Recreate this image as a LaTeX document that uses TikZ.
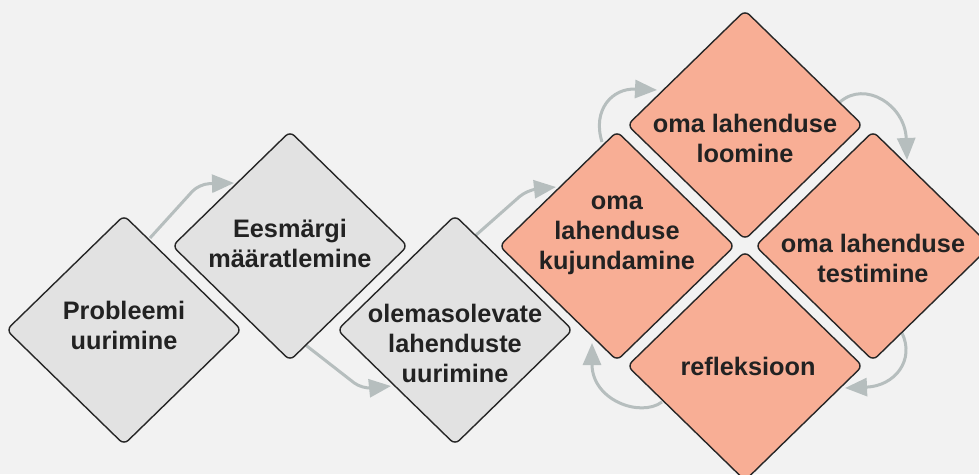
\documentclass[tikz,border=0pt]{standalone}
\usepackage{fontspec}
\setmainfont{Liberation Sans}
\usetikzlibrary{shapes.geometric,arrows.meta,calc}
\definecolor{bgc}{HTML}{F2F2F2}
\definecolor{grayfill}{HTML}{E2E2E2}
\definecolor{orangefill}{HTML}{F8AE95}
\definecolor{edgec}{HTML}{262626}
\definecolor{arrowc}{HTML}{B6BEBE}
\definecolor{textc}{HTML}{222222}
\pgfdeclarelayer{bg}
\pgfsetlayers{bg,main}
\begin{document}
\begin{tikzpicture}[x=1pt,y=-1pt,
  dia/.style={diamond, draw=edgec, line width=1.4pt, rounded corners=6pt, minimum width=235pt, minimum height=229pt, inner sep=0pt, outer sep=0pt},
  graydia/.style={dia, fill=grayfill},
  orangedia/.style={dia, fill=orangefill},
  lbl/.style={align=center, text=textc, font=\fontsize{25.3}{30}\selectfont\bfseries, inner sep=0pt},
  flow/.style={draw=arrowc, line width=3pt, -{Triangle[length=22pt,width=18pt]}, rounded corners=10pt}
]
\useasboundingbox (0,0) rectangle (979,474);

% diamonds
\node[graydia] (d1) at (124,330) {};
\node[graydia] (d2) at (290,246) {};
\node[graydia] (d3) at (455,330) {};
\node[orangedia] (d4) at (617,246) {};
\node[orangedia] (d5) at (745,125) {};
\node[orangedia] (d6) at (873,246) {};
\node[orangedia] (d7) at (745,366) {};

% labels
\node[lbl] (t1) at (124,325) {Probleemi\\uurimine};
\node[lbl] (t2) at (290,243) {Eesmärgi\\määratlemine};
\node[lbl] (t3) at (455,343) {olemasolevate\\lahenduste\\uurimine};
\node[lbl] (t4) at (617,235) {oma\\lahenduse\\kujundamine};
\node[lbl] (t5) at (745,138) {oma lahenduse\\loomine};
\node[lbl] (t6) at (873,258) {oma lahenduse\\testimine};
\node[lbl] (t7) at (748,366) {refleksioon};

% connector points
\coordinate (a1s) at (150,238);
\coordinate (a1b) at (199,184);
\coordinate (a1e) at (234,183);
\coordinate (a2s) at (303,343);
\coordinate (a2b) at (362,389);
\coordinate (a2e) at (391,386);
\coordinate (a3s) at (475,236);
\coordinate (a3b) at (527,190);
\coordinate (a3e) at (556,187);
\coordinate (a4s) at (602,142);
\coordinate (a4e) at (657,90);
\coordinate (a5s) at (840,102);
\coordinate (a5e) at (907,160);
\coordinate (a6s) at (902,333);
\coordinate (a6e) at (845,388);
\coordinate (a7s) at (662,402);
\coordinate (a7e) at (592,343);

\begin{pgfonlayer}{bg}
\fill[bgc] (0,0) rectangle (979,474);
\draw[flow] (a1s) -- (a1b) -- (a1e);
\draw[flow] (a2s) -- (a2b) -- (a2e);
\draw[flow] (a3s) -- (a3b) -- (a3e);
\draw[flow] (a4s) .. controls (592,110) and (612,88) .. (a4e);
\draw[flow] (a5s) .. controls (865,80) and (905,105) .. (a5e);
\draw[flow] (a6s) .. controls (915,360) and (895,386) .. (a6e);
\draw[flow] (a7s) .. controls (640,418) and (592,400) .. (a7e);
\end{pgfonlayer}
\end{tikzpicture}
\end{document}
